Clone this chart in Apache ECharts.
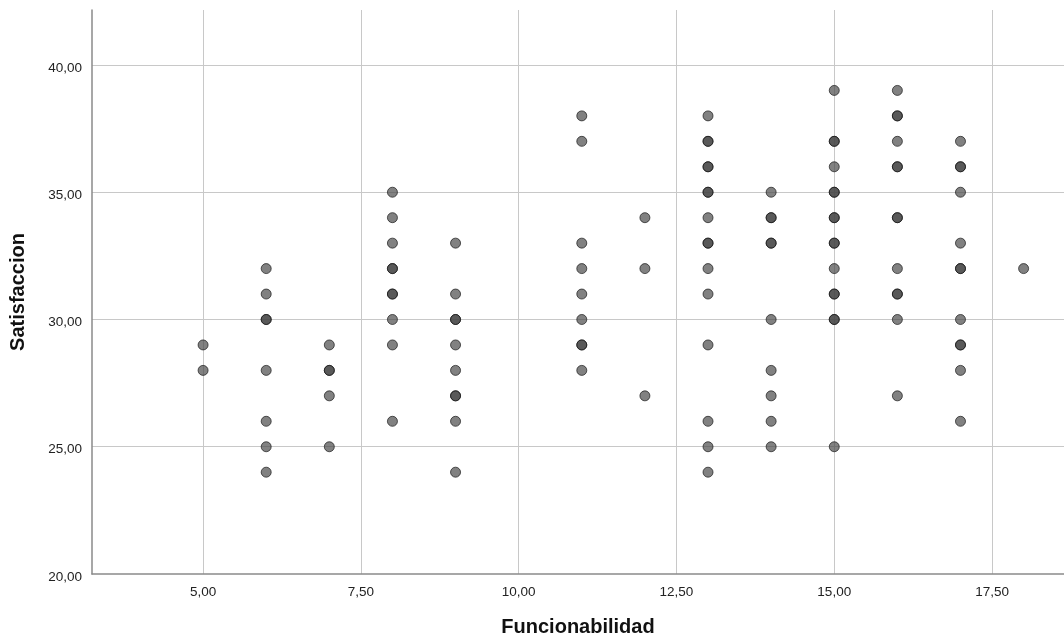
<!DOCTYPE html>
<html><head><meta charset="utf-8">
<script src="https://cdn.jsdelivr.net/npm/echarts@6/dist/echarts.min.js"></script>
<style>html,body{margin:0;padding:0;background:#fff}#c{width:1064px;height:639px}</style>
</head><body><div id="c"></div>
<script>
// Funcionabilidad (x) values and their Satisfaccion (y) values
const xValues = [5, 6, 7, 8, 9, 11, 12, 13, 14, 15, 16, 17, 18];
const yByX = [
  [29, 28],
  [32, 31, 30, 30, 28, 26, 25, 24],
  [29, 28, 28, 27, 25],
  [35, 34, 33, 32, 32, 31, 31, 30, 29, 26],
  [33, 31, 30, 30, 29, 28, 27, 27, 26, 24],
  [38, 37, 33, 32, 31, 30, 29, 29, 28],
  [34, 32, 27],
  [38, 37, 37, 36, 36, 35, 35, 34, 33, 33, 32, 31, 29, 26, 25, 24],
  [35, 34, 34, 33, 33, 30, 28, 27, 26, 25],
  [39, 37, 37, 36, 35, 35, 34, 34, 33, 33, 32, 31, 31, 30, 30, 25],
  [39, 38, 38, 37, 36, 36, 34, 34, 32, 31, 31, 30, 27],
  [37, 36, 36, 35, 33, 32, 32, 30, 29, 29, 28, 26],
  [32]
];
const xTicks = [5, 7.5, 10, 12.5, 15, 17.5];
const yTicks = [20, 25, 30, 35, 40];

const points = [];
xValues.forEach((x, i) => yByX[i].forEach(y => points.push([x, y])));

const fmt = v => v.toFixed(2).replace('.', ',');
const font = 'Liberation Sans, Arial, sans-serif';

const chart = echarts.init(document.getElementById('c'), null, {renderer: 'canvas'});
chart.setOption({
  animation: false,
  grid: {left: 92, right: 0, top: 10, bottom: 65, containLabel: false, outerBoundsMode: 'none'},
  xAxis: {
    type: 'value', min: 3.24, max: 18.64,
    name: 'Funcionabilidad', nameLocation: 'middle', nameGap: 43,
    nameTextStyle: {fontFamily: font, fontSize: 20, fontWeight: 'bold', color: '#111'},
    axisLine: {show: true, lineStyle: {color: '#8a8a8a', width: 1.5}},
    axisTick: {show: false, customValues: xTicks},
    axisLabel: {customValues: xTicks, formatter: fmt, fontFamily: font, fontSize: 13.5, color: '#222', margin: 11},
    splitLine: {show: true, showMinLine: true, showMaxLine: true, lineStyle: {color: '#c8c8c8', width: 1}}
  },
  yAxis: {
    type: 'value', min: 20, max: 42.16,
    name: 'Satisfaccion', nameLocation: 'middle', nameGap: 64, nameRotate: 90,
    nameTextStyle: {fontFamily: font, fontSize: 20, fontWeight: 'bold', color: '#111'},
    axisLine: {show: true, lineStyle: {color: '#8a8a8a', width: 1.5}},
    axisTick: {show: false, customValues: yTicks},
    axisLabel: {customValues: yTicks, formatter: fmt, fontFamily: font, fontSize: 13.5, color: '#222', margin: 10,
      verticalAlign: 'top', lineHeight: 6},
    splitLine: {show: true, showMinLine: false, showMaxLine: true, lineStyle: {color: '#c8c8c8', width: 1}}
  },
  series: [{
    type: 'scatter', data: points, symbolSize: 10,
    itemStyle: {color: 'rgba(70,70,70,0.85)', borderColor: 'rgba(20,20,20,0.85)', borderWidth: 1}
  }]
});
</script></body></html>
